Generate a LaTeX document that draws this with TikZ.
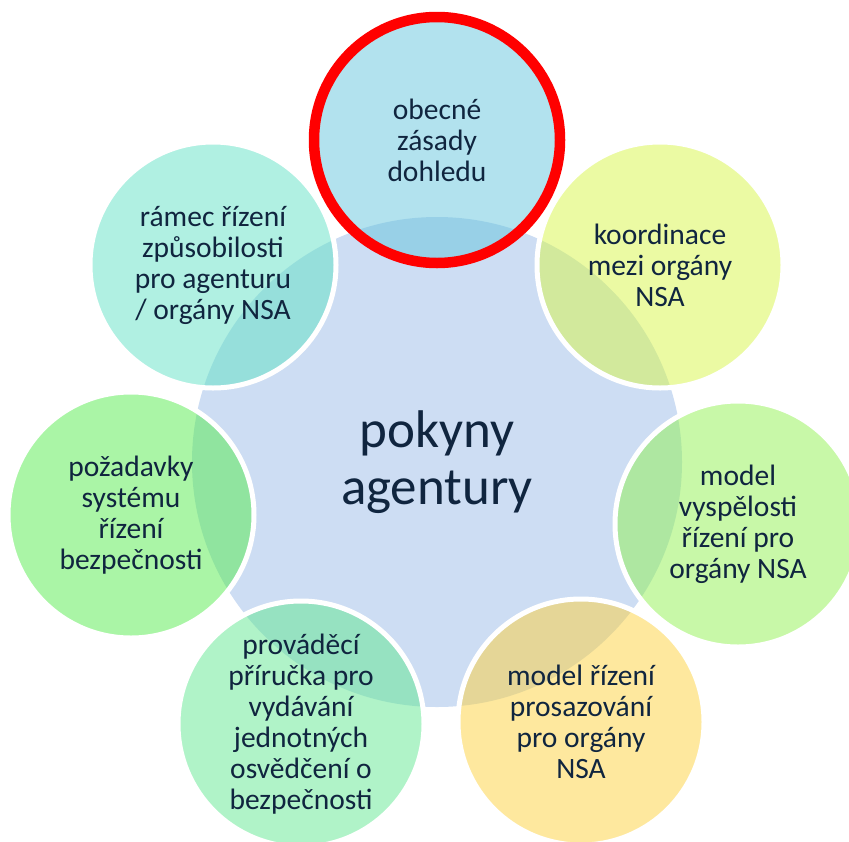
\documentclass[tikz,border=0pt]{standalone}
\usepackage{fontspec}
\setmainfont{Carlito}
\definecolor{textnavy}{HTML}{10253F}
\definecolor{hubblue}{RGB}{205,221,243}
\definecolor{dohledcyan}{RGB}{101,197,221}
\definecolor{ramecmint}{RGB}{97,225,197}
\definecolor{pozadavkygreen}{RGB}{85,235,77}
\definecolor{prirucka}{RGB}{97,231,145}
\definecolor{prosazovaniyellow}{RGB}{253,209,61}
\definecolor{vyspelostgreen}{RGB}{145,241,81}
\definecolor{koordinacelime}{RGB}{215,245,71}
\begin{document}
\begin{tikzpicture}[x=1pt, y=-1pt,
    hub/.style={circle, fill=hubblue, minimum size=490pt, inner sep=0pt,
        text=textnavy, align=center, font=\fontsize{53}{57}\selectfont},
    bubble/.style={circle, minimum size=246pt, inner sep=0pt, fill=#1,
        fill opacity=0.5, text opacity=1, draw=white, line width=5pt,
        text=textnavy, align=center, font=\fontsize{29.5}{31}\selectfont}]
    \useasboundingbox (0,0) rectangle (849,841);

    % Central guidance
    \node[hub] (pokyny) at (437,462) {pokyny\\agentury};

    % Surrounding topics
    \node[bubble=ramecmint] (ramec) at (213,265)
        {rámec řízení\\způsobilosti\\pro agenturu\\/ orgány NSA};
    \node[bubble=pozadavkygreen] (pozadavky) at (131,515)
        {požadavky\\systému\\řízení\\bezpečnosti};
    \node[bubble=prirucka] (prirucka) at (301,724)
        {prováděcí\\příručka pro\\vydávání\\jednotných\\osvědčení o\\bezpečnosti};
    \node[bubble=prosazovaniyellow] (prosazovani) at (581,722)
        {model řízení\\prosazování\\pro orgány\\NSA};
    \node[bubble=vyspelostgreen] (vyspelost) at (738,524)
        {model\\vyspělosti\\řízení pro\\orgány NSA};
    \node[bubble=koordinacelime] (koordinace) at (660,265)
        {koordinace\\mezi orgány\\NSA};

    % Highlighted topic
    \node[bubble=dohledcyan, draw=red, line width=10.5pt] (dohled) at (437,140)
        {obecné\\zásady\\dohledu};
\end{tikzpicture}
\end{document}
